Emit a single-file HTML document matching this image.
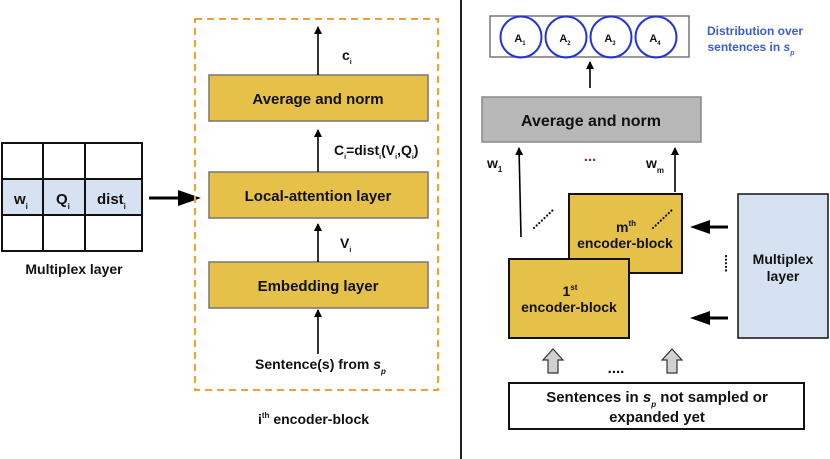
<!DOCTYPE html>
<html><head><meta charset="utf-8"><style>
html,body{margin:0;padding:0;background:#fff;}
svg{display:block;font-family:"Liberation Sans",sans-serif;font-weight:bold;}
</style></head><body>
<svg width="830" height="459" viewBox="0 0 830 459" xmlns="http://www.w3.org/2000/svg">
<defs>
<marker id="ah" markerWidth="8" markerHeight="8" refX="7" refY="4" orient="auto" markerUnits="userSpaceOnUse"><path d="M0,0 L8,4 L0,8 Z" fill="#000"/></marker>
</defs>
<rect x="2" y="179" width="140" height="36" fill="#d6e2f2"/>
<g stroke="#111" stroke-width="2" fill="none">
<rect x="2" y="143" width="140" height="108"/>
<line x1="43" y1="143" x2="43" y2="251"/><line x1="85" y1="143" x2="85" y2="251"/>
<line x1="2" y1="179" x2="142" y2="179"/><line x1="2" y1="215" x2="142" y2="215"/>
</g>
<g font-size="15" fill="#111">
<text x="14" y="204">w<tspan font-size="8" dy="5">i</tspan></text>
<text x="56" y="204">Q<tspan font-size="8" dy="5">i</tspan></text>
<text x="97" y="204">dist<tspan font-size="8" dy="5">i</tspan></text>
</g>
<text x="74" y="274" font-size="14" text-anchor="middle" fill="#111">Multiplex layer</text>
<line x1="149" y1="198" x2="180" y2="198" stroke="#000" stroke-width="3"/>
<path d="M178,190 L201,198 L178,206 Z" fill="#000"/>
<rect x="195" y="19" width="243" height="371" fill="none" stroke="#f0a030" stroke-width="2" stroke-dasharray="7,5"/>
<g fill="#e6c14a" stroke="#777" stroke-width="1.5">
<rect x="209" y="75" width="219" height="46"/>
<rect x="209" y="172" width="219" height="46"/>
<rect x="209" y="262" width="219" height="46"/>
</g>
<g font-size="15" fill="#111" text-anchor="middle">
<text x="318" y="104">Average and norm</text>
<text x="318" y="201">Local-attention layer</text>
<text x="318" y="291">Embedding layer</text>
</g>
<g stroke="#000" stroke-width="1.6" marker-end="url(#ah)">
<line x1="318" y1="75" x2="318" y2="27"/>
<line x1="318" y1="172" x2="318" y2="130"/>
<line x1="318" y1="262" x2="318" y2="224"/>
<line x1="318" y1="354" x2="318" y2="310"/>
</g>
<g font-size="14" fill="#111">
<text x="342" y="60">c<tspan font-size="7" dy="4">i</tspan></text>
<text x="334" y="155">C<tspan font-size="7" dy="4">i</tspan><tspan dy="-4">=dist</tspan><tspan font-size="7" dy="4">i</tspan><tspan dy="-4">(V</tspan><tspan font-size="7" dy="4">i</tspan><tspan dy="-4">,Q</tspan><tspan font-size="7" dy="4">i</tspan><tspan dy="-4">)</tspan></text>
<text x="340" y="248">V<tspan font-size="7" dy="4">i</tspan></text>
<text x="255" y="369">Sentence(s) from <tspan font-style="italic">s</tspan><tspan font-size="8" font-style="italic" dy="5">p</tspan></text>
<text x="258" y="424">i<tspan font-size="8" dy="-6">th</tspan><tspan dy="6"> encoder-block</tspan></text>
</g>
<line x1="461" y1="0" x2="461" y2="459" stroke="#222" stroke-width="2"/>
<rect x="490" y="16" width="199" height="41" fill="#fff" stroke="#777" stroke-width="1.5"/>
<g fill="none" stroke="#2233dd" stroke-width="2">
<circle cx="521" cy="37" r="20.5"/><circle cx="566" cy="37" r="20.5"/><circle cx="611" cy="37" r="20.5"/><circle cx="656" cy="37" r="20.5"/>
</g>
<g font-size="11" fill="#111" text-anchor="middle">
<text x="520" y="42">A<tspan font-size="6" dy="3">1</tspan></text>
<text x="565" y="42">A<tspan font-size="6" dy="3">2</tspan></text>
<text x="610" y="42">A<tspan font-size="6" dy="3">3</tspan></text>
<text x="655" y="42">A<tspan font-size="6" dy="3">4</tspan></text>
</g>
<g font-size="12" fill="#3a5fcd" text-anchor="middle">
<text x="755" y="35">Distribution over</text>
<text x="751" y="51">sentences in <tspan font-style="italic">s</tspan><tspan font-size="7" font-style="italic" dy="4">p</tspan></text>
</g>
<line x1="590" y1="88" x2="590" y2="62" stroke="#000" stroke-width="1.6" marker-end="url(#ah)"/>
<rect x="482" y="97" width="219" height="45" fill="#b7b7b7" stroke="#888" stroke-width="1.5"/>
<text x="591" y="126" font-size="16" fill="#111" text-anchor="middle">Average and norm</text>
<g stroke="#000" stroke-width="1.6" marker-end="url(#ah)">
<line x1="521" y1="237" x2="519" y2="148"/>
<line x1="675" y1="192" x2="675" y2="148"/>
</g>
<text x="487" y="168" font-size="14" fill="#111">w<tspan font-size="8" dy="4">1</tspan></text>
<text x="646" y="168" font-size="14" fill="#111">w<tspan font-size="8" dy="5">m</tspan></text>
<text x="590" y="161" font-size="15" fill="#aa2222" text-anchor="middle">...</text>
<rect x="569" y="194" width="113" height="79" fill="#e6c14a" stroke="#111" stroke-width="2"/>
<rect x="509" y="259" width="120" height="79" fill="#e6c14a" stroke="#111" stroke-width="2"/>
<g stroke="#111" stroke-width="2.2" stroke-dasharray="0.1,3.5" stroke-linecap="round">
<line x1="534" y1="228" x2="553" y2="210"/>
<line x1="653" y1="228" x2="672" y2="210"/>
<line x1="726" y1="256" x2="726" y2="274"/>
</g>
<g font-size="14" fill="#111" text-anchor="middle">
<text x="626" y="232">m<tspan font-size="8" dy="-6">th</tspan></text>
<text x="625" y="248">encoder-block</text>
<text x="570" y="296">1<tspan font-size="8" dy="-6">st</tspan></text>
<text x="569" y="312">encoder-block</text>
</g>
<rect x="738" y="194" width="90" height="144" fill="#d6e2f2" stroke="#111" stroke-width="1.5"/>
<text x="783" y="264" font-size="14" fill="#111" text-anchor="middle">Multiplex</text>
<text x="783" y="281" font-size="14" fill="#111" text-anchor="middle">layer</text>
<g>
<line x1="708" y1="227" x2="728" y2="227" stroke="#000" stroke-width="3"/>
<path d="M690,227 L710,220 L710,234 Z" fill="#000"/>
<line x1="708" y1="318" x2="728" y2="318" stroke="#000" stroke-width="3"/>
<path d="M690,318 L710,311 L710,325 Z" fill="#000"/>
</g>
<g fill="#d0d0d0" stroke="#333" stroke-width="1.2">
<path d="M553,349 L563,360 L558,360 L558,373 L548,373 L548,360 L543,360 Z"/>
<path d="M672,349 L682,360 L677,360 L677,373 L667,373 L667,360 L662,360 Z"/>
</g>
<text x="616" y="373" font-size="15" fill="#111" text-anchor="middle">....</text>
<rect x="509" y="383" width="295" height="46" fill="#fff" stroke="#111" stroke-width="2"/>
<g font-size="15" fill="#111" text-anchor="middle">
<text x="657" y="402">Sentences in <tspan font-style="italic">s</tspan><tspan font-size="8" font-style="italic" dy="5">p</tspan><tspan dy="-5"> not sampled or</tspan></text>
<text x="657" y="422">expanded yet</text>
</g>
</svg>
</body></html>
